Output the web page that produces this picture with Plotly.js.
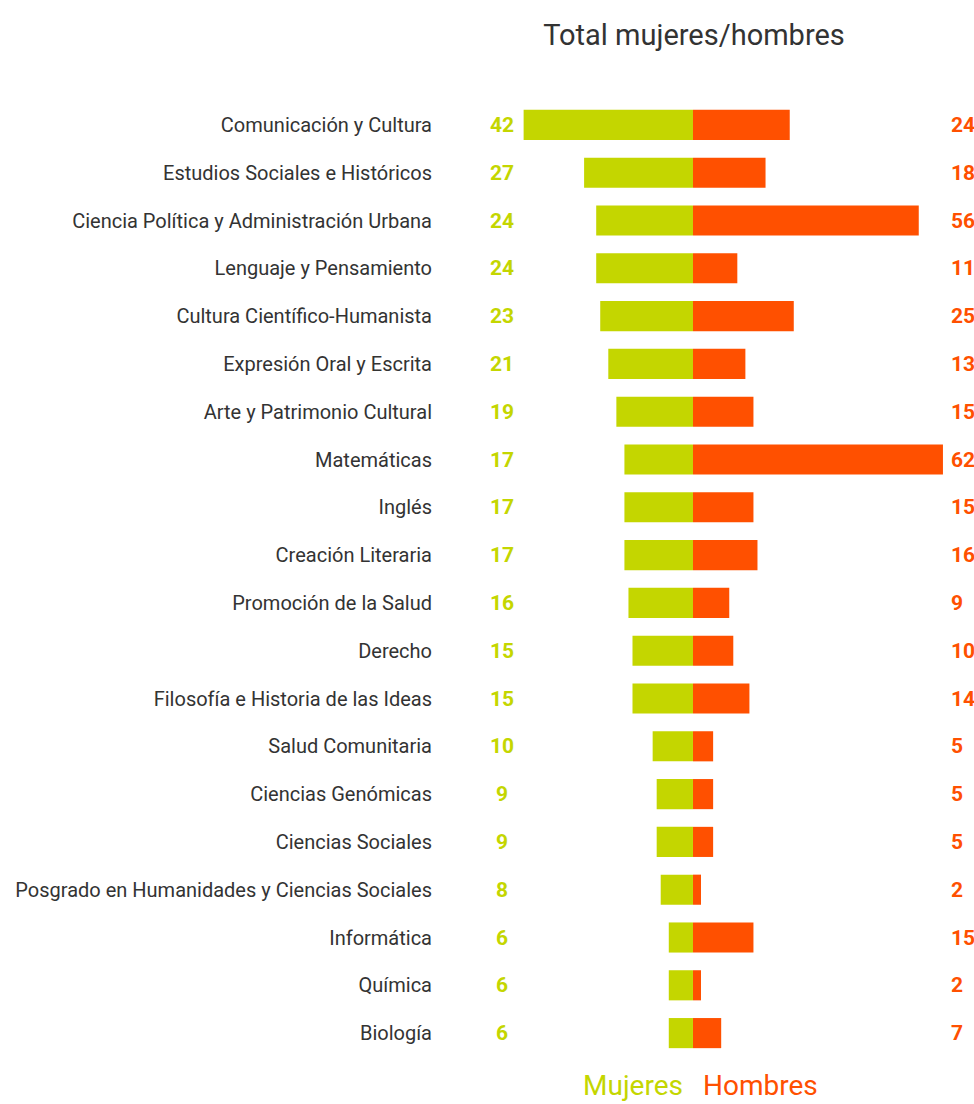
<!DOCTYPE html>
<html>
<head>
<meta charset="utf-8">
<script src="https://cdn.plot.ly/plotly-3.0.1.min.js"></script>
<style>
  body { margin: 0; background: #fff; }
  #chart { width: 974px; height: 1104px; }
</style>
</head>
<body>
<div id="chart"></div>
<script>
const categories = [
    "Comunicación y Cultura",
    "Estudios Sociales e Históricos",
    "Ciencia Política y Administración Urbana",
    "Lenguaje y Pensamiento",
    "Cultura Científico-Humanista",
    "Expresión Oral y Escrita",
    "Arte y Patrimonio Cultural",
    "Matemáticas",
    "Inglés",
    "Creación Literaria",
    "Promoción de la Salud",
    "Derecho",
    "Filosofía e Historia de las Ideas",
    "Salud Comunitaria",
    "Ciencias Genómicas",
    "Ciencias Sociales",
    "Posgrado en Humanidades y Ciencias Sociales",
    "Informática",
    "Química",
    "Biología"
];
const mujeres = [42, 27, 24, 24, 23, 21, 19, 17, 17, 17, 16, 15, 15, 10, 9, 9, 8, 6, 6, 6];
const hombres = [24, 18, 56, 11, 25, 13, 15, 62, 15, 16, 9, 10, 14, 5, 5, 5, 2, 15, 2, 7];

const green = "#c4d600";
const orange = "#ff5000";
const fontName = "Roboto, 'Liberation Sans', sans-serif";

const traces = [
    {
        type: "bar",
        orientation: "h",
        name: "Mujeres",
        y: categories,
        x: mujeres.map(v => -v),
        marker: { color: green },
        hoverinfo: "skip"
    },
    {
        type: "bar",
        orientation: "h",
        name: "Hombres",
        y: categories,
        x: hombres,
        marker: { color: orange },
        hoverinfo: "skip"
    }
];

let annotations = [];
categories.forEach(function (c, i) {
    annotations.push({
        x: -47.4, y: c, xref: "x", yref: "y",
        text: "<b>" + mujeres[i] + "</b>", showarrow: false,
        xanchor: "center", yanchor: "middle",
        font: { family: fontName, size: 21, color: green }
    });
    annotations.push({
        x: 63.4, y: c, xref: "x", yref: "y",
        text: "<b>" + hombres[i] + "</b>", showarrow: false,
        xanchor: "left", yanchor: "middle",
        font: { family: fontName, size: 21, color: orange }
    });
});
annotations.push({
    x: -2, y: -0.03, xref: "x", yref: "paper",
    text: "Mujeres", showarrow: false, xanchor: "right", yanchor: "middle",
    font: { family: fontName, size: 28, color: green }
});
annotations.push({
    x: 2, y: -0.03, xref: "x", yref: "paper",
    text: "Hombres", showarrow: false, xanchor: "left", yanchor: "middle",
    font: { family: fontName, size: 28, color: orange }
});

const layout = {
    width: 974,
    height: 1104,
    margin: { l: 445, r: 0, t: 101, b: 47 },
    paper_bgcolor: "#fff",
    plot_bgcolor: "#fff",
    barmode: "relative",
    bargap: 0.37,
    showlegend: false,
    title: {
        text: "Total mujeres/hombres",
        x: 0.7125, xref: "container", xanchor: "center",
        y: 0.968, yref: "container", yanchor: "middle",
        font: { family: fontName, size: 29, color: "#333" }
    },
    xaxis: {
        range: [-61.5, 69.7],
        showgrid: false, zeroline: false, showticklabels: false, fixedrange: true
    },
    yaxis: {
        autorange: "reversed",
        showgrid: false, zeroline: false,
        ticks: "", ticklabelstandoff: 12,
        tickfont: { family: fontName, size: 20, color: "#333" }
    },
    annotations: annotations
};

Plotly.newPlot("chart", traces, layout, { displayModeBar: false, staticPlot: true });
</script>
</body>
</html>
